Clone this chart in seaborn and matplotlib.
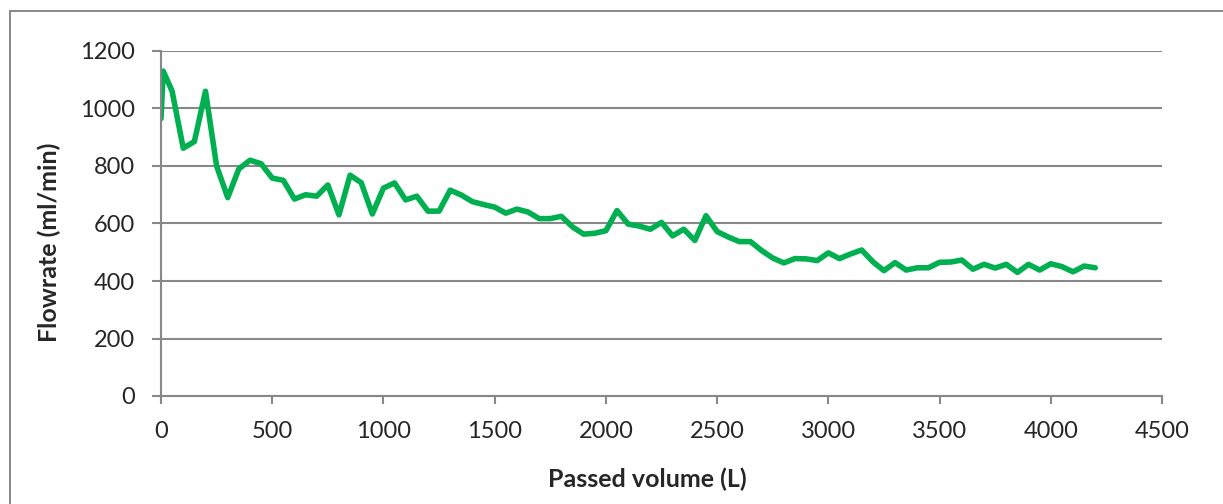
import matplotlib
matplotlib.use("Agg")
import matplotlib.pyplot as plt
import pandas as pd
import seaborn as sns
from matplotlib.patches import Rectangle

# passed volume (L) and flowrate (ml/min)
volume = [0, 10, 50, 100, 150, 200, 250, 300, 350, 400, 450, 500, 550, 600, 650, 700,
          750, 800, 850, 900, 950, 1000, 1050, 1100, 1150, 1200, 1250, 1300, 1350,
          1400, 1450, 1500, 1550, 1600, 1650, 1700, 1750, 1800, 1850, 1900, 1950,
          2000, 2050, 2100, 2150, 2200, 2250, 2300, 2350, 2400, 2450, 2500, 2550,
          2600, 2650, 2700, 2750, 2800, 2850, 2900, 2950, 3000, 3050, 3100, 3150,
          3200, 3250, 3300, 3350, 3400, 3450, 3500, 3550, 3600, 3650, 3700, 3750,
          3800, 3850, 3900, 3950, 4000, 4050, 4100, 4150, 4200]
flowrate = [965, 1130, 1060, 862, 885, 1060, 800, 690, 790, 820, 808, 758, 750, 685,
            700, 695, 734, 630, 768, 742, 633, 723, 741, 682, 695, 643, 643, 716, 699,
            676, 666, 657, 636, 650, 640, 617, 617, 625, 588, 563, 566, 575, 645, 598,
            591, 580, 604, 557, 580, 541, 627, 572, 553, 537, 537, 506, 480, 463, 478,
            477, 471, 498, 478, 494, 508, 467, 436, 464, 438, 446, 446, 465, 466, 473,
            441, 458, 445, 458, 430, 458, 438, 460, 450, 432, 452, 446]

xticks = [0, 500, 1000, 1500, 2000, 2500, 3000, 3500, 4000, 4500]
yticks = [0, 200, 400, 600, 800, 1000, 1200]

df = pd.DataFrame({"volume": volume, "flowrate": flowrate})

sns.set_style("white")
plt.rcParams["font.family"] = ["Lato", "DejaVu Sans"]

grey = "#888888"
fig = plt.figure(figsize=(12.23, 5.04), dpi=100)
ax = fig.add_axes([161 / 1223, 1 - 396 / 504, (1162 - 161) / 1223, (396 - 51) / 504])

# chart area border (cut off at right and bottom like the original)
fig.patches.append(Rectangle((10 / 1223, -0.05), 1.1, 1 - 11 / 504 + 0.05,
                             transform=fig.transFigure, fill=False,
                             edgecolor=grey, linewidth=1.4, zorder=0))

sns.lineplot(data=df, x="volume", y="flowrate", ax=ax, color="#00B050",
             linewidth=4, solid_joinstyle="round", solid_capstyle="round")

ax.set_xlim(0, 4500)
ax.set_ylim(0, 1200)
ax.set_xticks(xticks)
ax.set_yticks(yticks)
ax.yaxis.grid(True, color=grey, linewidth=1.5)
ax.xaxis.grid(False)
ax.set_axisbelow(True)

for s in ["top", "right"]:
    ax.spines[s].set_visible(False)
for s in ["left", "bottom"]:
    ax.spines[s].set_color(grey)
    ax.spines[s].set_linewidth(1.5)

ax.tick_params(axis="y", direction="out", length=6.5, width=1.5, color=grey,
               labelsize=17, pad=12, left=True)
ax.tick_params(axis="x", direction="out", length=6, width=1.5, color=grey,
               labelsize=17, pad=12, bottom=True)

ax.set_xlabel("Passed volume (L)", fontsize=18, fontweight="bold")
ax.set_ylabel("Flowrate (ml/min)", fontsize=18, fontweight="bold")
ax.xaxis.set_label_coords((647 - 161) / 1001, -(468 - 396) / 345)
ax.yaxis.set_label_coords(-(161 - 61) / 1001, (396 - 242) / 345)

fig.savefig("out.png", dpi=100)
